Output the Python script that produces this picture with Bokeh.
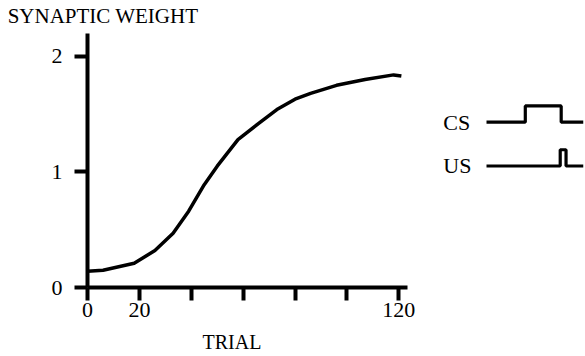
from bokeh.plotting import figure
from bokeh.models import Range1d, FixedTicker, LinearAxis
from bokeh.core.properties import value
from bokeh.embed import file_html
from bokeh.resources import INLINE

# ---- data ----
trial = [0, 6, 18, 26, 33, 39, 45, 50, 58, 66, 73, 80, 86, 96, 107, 118, 121]
weight = [0.14, 0.15, 0.21, 0.32, 0.47, 0.66, 0.89, 1.05, 1.28, 1.42, 1.54,
          1.63, 1.68, 1.75, 1.80, 1.84, 1.83]
x_ticks = [0, 20, 40, 60, 80, 100, 120]
x_tick_labels = ["0", "20", "", "", "", "", "120"]
y_ticks = [0, 1, 2]
y_tick_labels = ["0", "1", "2"]
x_title = "TRIAL"
y_title = "SYNAPTIC WEIGHT"

# schematic stimulus traces (time in arbitrary units, level 0/1)
cs_time = [0, 40, 40, 77, 77, 100]
cs_level = [0, 0, 1, 1, 0, 0]
us_time = [0, 76, 76, 82, 82, 100]
us_level = [0, 0, 1, 1, 0, 0]
trace_names = ["CS", "US"]

# ---- layout constants (pixels) ----
W, H = 585, 356
LEFT, TOP, RIGHT = 87, 32, 2
FRAME_H = 255
BOTTOM = H - TOP - FRAME_H
PX_X = 2.594          # px per trial
PX_Y = 116.0          # px per weight unit
frame_w = W - LEFT - RIGHT

FONT = "Liberation Serif"
FS = "22px"

p = figure(width=W, height=H, output_backend="svg", toolbar_location=None,
           x_range=Range1d(0, frame_w / PX_X), y_range=Range1d(0, FRAME_H / PX_Y),
           min_border_left=LEFT, min_border_right=RIGHT, min_border_top=TOP,
           min_border_bottom=BOTTOM)
p.outline_line_color = None
p.xgrid.visible = False
p.ygrid.visible = False
p.background_fill_color = "white"
p.border_fill_color = "white"

# ranges for the stimulus diagram on the right
diag_left = 486 - LEFT
diag_px_unit = (frame_w - diag_left) / 100.0
dx_start = -diag_left / diag_px_unit
p.extra_x_ranges = {"diag": Range1d(dx_start, dx_start + frame_w / diag_px_unit)}
DY = 44.0
dy_start = -(TOP + FRAME_H - 165) / DY
p.extra_y_ranges = {"diag": Range1d(dy_start, dy_start + FRAME_H / DY)}

for ax in (p.xaxis[0], p.yaxis[0]):
    ax.axis_line_width = 4
    ax.axis_line_color = "black"
    ax.major_tick_line_width = 4
    ax.major_tick_line_color = "black"
    ax.major_tick_out = 13
    ax.major_tick_in = 0
    ax.minor_tick_line_color = None
    ax.major_label_text_font = FONT
    ax.major_label_text_font_size = FS
    ax.major_label_text_color = "black"

p.xaxis.ticker = FixedTicker(ticks=x_ticks)
p.xaxis.major_label_overrides = {t: s for t, s in zip(x_ticks, x_tick_labels)}
p.xaxis.bounds = (0, 123.5)
p.xaxis.major_label_standoff = 2
p.yaxis.ticker = FixedTicker(ticks=y_ticks)
p.yaxis.major_label_overrides = {t: s for t, s in zip(y_ticks, y_tick_labels)}
p.yaxis.major_label_standoff = 12


def text_axis(pos, text, size, standoff):
    return LinearAxis(ticker=FixedTicker(ticks=[pos]),
                      major_label_overrides={pos: text},
                      axis_line_color=None, major_tick_line_color=None,
                      minor_tick_line_color=None, major_tick_out=0, major_tick_in=0,
                      major_label_standoff=standoff, major_label_text_font=FONT,
                      major_label_text_font_size=size, major_label_text_color="black")


# axis titles as line-less axes, labelled at their positions
p.add_layout(text_axis((231.5 - LEFT) / PX_X, x_title, "20px", 11), "below")
p.add_layout(text_axis((102.5 - LEFT) / PX_X, y_title, "21px", 6), "above")

p.line(trial, weight, line_color="black", line_width=3.5, line_join="round")

AMP = 0.37
for base, tt, lv, name in [(1, cs_time, cs_level, trace_names[0]),
                           (0, us_time, us_level, trace_names[1])]:
    p.line(tt, [base + AMP * v for v in lv], line_color="black", line_width=3.2,
           x_range_name="diag", y_range_name="diag")
    p.text(x=[-44.6], y=[base], text=[name], text_font=value(FONT),
           text_font_size=value(FS), text_baseline="middle", text_align="left",
           text_color="black", x_range_name="diag", y_range_name="diag")

open("out.html", "w").write(file_html(p, INLINE))
